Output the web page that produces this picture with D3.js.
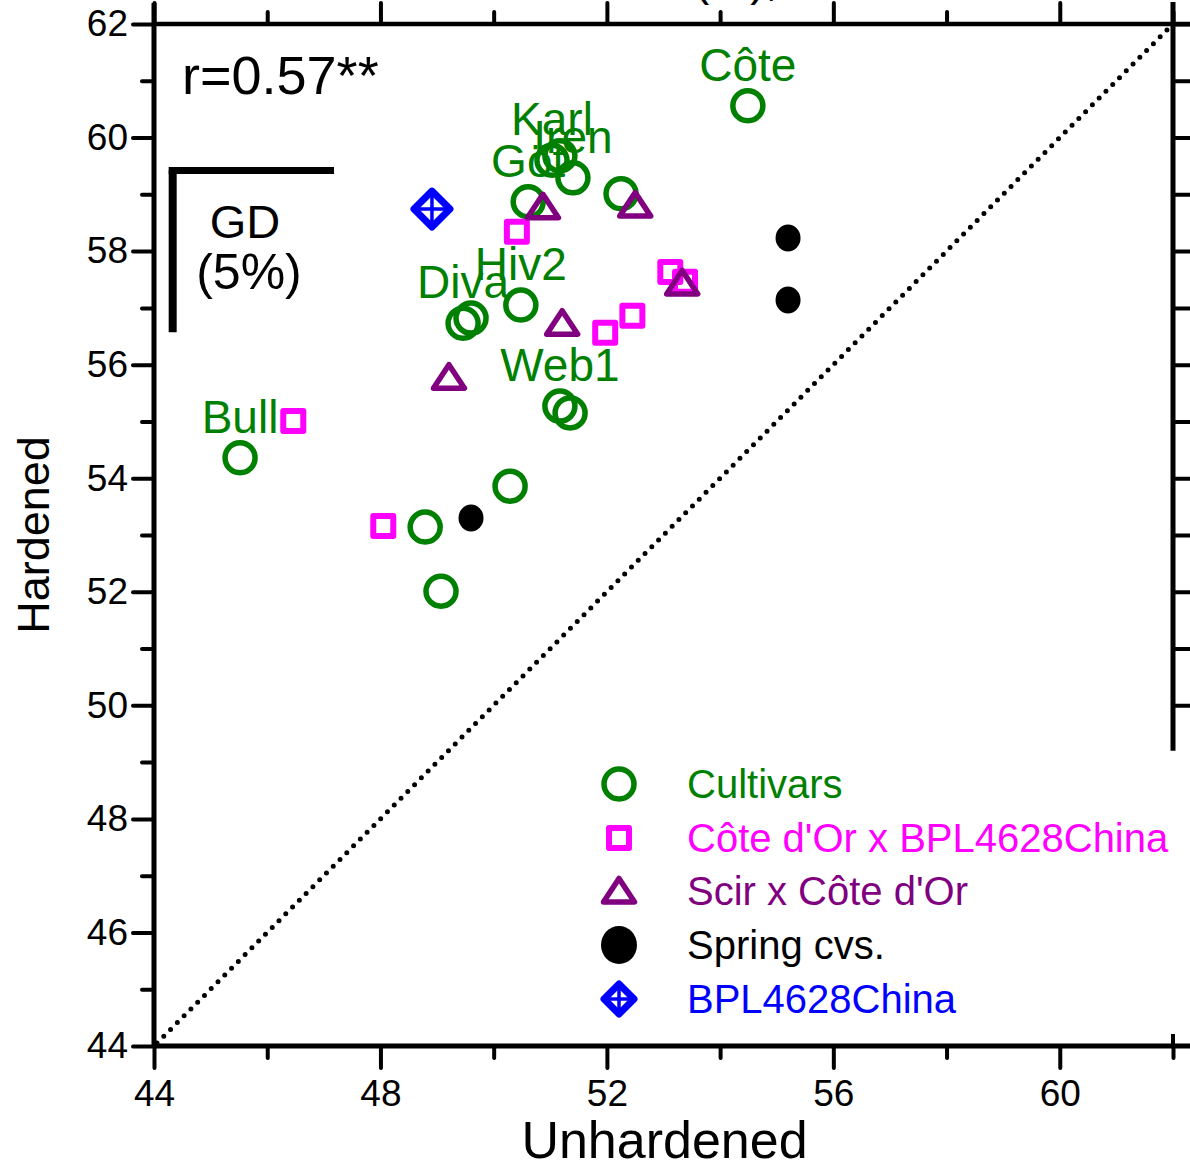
<!DOCTYPE html>
<html><head><meta charset="utf-8">
<script src="https://cdn.jsdelivr.net/npm/d3@7"></script>
<style>body{margin:0;background:#fff}svg{display:block;font-family:"Liberation Sans",Arial,sans-serif}</style>
</head><body><svg id="c" width="1190" height="1170"></svg>
<script>
// ---- data ----
const cultX = [54.49, 51.03, 51.17, 51.40, 50.61, 52.25, 50.48, 49.46, 49.60, 51.17, 51.35, 45.52, 50.29, 48.79, 49.07];
const cultY = [60.56, 59.60, 59.68, 59.29, 58.87, 59.01, 57.05, 56.73, 56.82, 55.27, 55.15, 54.36, 53.86, 53.14, 52.01];
const cultLabels = ["Côte", "Karl", "", "Iren", "Göt", "", "Hiv2", "Diva", "", "Web1", "", "Bull", "", "", ""];
const sqX = [46.46, 48.05, 50.41, 51.97, 52.45, 53.12, 53.38];
const sqY = [55.01, 53.16, 58.34, 56.56, 56.86, 57.63, 57.46];
const triX = [50.87, 52.50, 49.21, 51.21, 53.33];
const triY = [58.78, 58.81, 55.78, 56.73, 57.44];
const springX = [55.20, 55.20, 49.60];
const springY = [58.23, 57.14, 53.30];
const chinaX = [48.91];
const chinaY = [58.74];
const legendNames = ["Cultivars", "Côte d'Or x BPL4628China", "Scir x Côte d'Or", "Spring cvs.", "BPL4628China"];
const legendColors = ["#008000", "#ff00ff", "#800080", "#000000", "#0000ff"];
const legendShapes = ["circle", "square", "triangle", "dot", "diamond"];
const xMajor = [44, 48, 52, 56, 60];
const xMinor = [46, 50, 54, 58, 62];
const yMajor = [44, 46, 48, 50, 52, 54, 56, 58, 60, 62];
const yMinor = [45, 47, 49, 51, 53, 55, 57, 59, 61];
const rightTicks = [50, 51, 52, 53, 54, 55, 56, 57, 58, 59, 60, 61, 62];
const rightEnd = 49.2;
const gdStartX = 44.33, gdStartY = 59.42, gdValue = 2.85;
const rText = "r=0.57**";

// ---- chart ----
const svg = d3.select("#c");
const x = d3.scaleLinear([44, 62], [154, 1173]);
const y = d3.scaleLinear([44, 62], [1046, 24]);

function styleAxis(g, w) {
  g.selectAll(".domain").attr("stroke", "#000").attr("stroke-width", w);
  g.selectAll(".tick line").attr("stroke", "#000").attr("stroke-width", 4).attr("stroke-linecap", "round");
}
// top
const topMaj = svg.append("g").attr("transform", `translate(0,${y(62)})`)
  .call(d3.axisTop(x).tickValues(xMajor).tickSize(21).tickSizeOuter(0).tickFormat(""));
styleAxis(topMaj, 4.5); topMaj.select(".domain").remove();
const topMin = svg.append("g").attr("transform", `translate(0,${y(62)})`)
  .call(d3.axisTop(x).tickValues(xMinor).tickSize(12).tickSizeOuter(0).tickFormat(""));
styleAxis(topMin, 4.5); topMin.select(".domain").remove();
svg.append("line").attr("x1", x(44)).attr("x2", 1190).attr("y1", y(62)).attr("y2", y(62)).attr("stroke", "#000").attr("stroke-width", 4.5);
// bottom
const botMaj = svg.append("g").attr("transform", `translate(0,${y(44)})`)
  .call(d3.axisBottom(x).tickValues(xMajor).tickSize(22).tickSizeOuter(0).tickPadding(12).tickFormat(d3.format("d")));
styleAxis(botMaj, 5); botMaj.select(".domain").remove();
botMaj.selectAll(".tick text").attr("font-size", 37).attr("fill", "#000").attr("font-family", "Liberation Sans, Arial, sans-serif");
const botMin = svg.append("g").attr("transform", `translate(0,${y(44)})`)
  .call(d3.axisBottom(x).tickValues(xMinor).tickSize(12).tickSizeOuter(0).tickFormat(""));
styleAxis(botMin, 5); botMin.select(".domain").remove();
svg.append("line").attr("x1", x(62)).attr("x2", x(62)).attr("y1", y(44) - 12).attr("y2", y(44)).attr("stroke", "#000").attr("stroke-width", 4);
svg.append("line").attr("x1", x(44)).attr("x2", 1190).attr("y1", y(44)).attr("y2", y(44)).attr("stroke", "#000").attr("stroke-width", 5);
// left
const leftMaj = svg.append("g").attr("transform", `translate(${x(44)},0)`)
  .call(d3.axisLeft(y).tickValues(yMajor).tickSize(21).tickSizeOuter(0).tickPadding(5).tickFormat(d3.format("d")));
styleAxis(leftMaj, 5); leftMaj.select(".domain").remove();
leftMaj.selectAll(".tick text").attr("font-size", 37).attr("fill", "#000").attr("font-family", "Liberation Sans, Arial, sans-serif");
const leftMin = svg.append("g").attr("transform", `translate(${x(44)},0)`)
  .call(d3.axisLeft(y).tickValues(yMinor).tickSize(12).tickSizeOuter(0).tickFormat(""));
styleAxis(leftMin, 5); leftMin.select(".domain").remove();
svg.append("line").attr("x1", x(44)).attr("x2", x(44)).attr("y1", 3).attr("y2", y(44)).attr("stroke", "#000").attr("stroke-width", 5);
// right
const right = svg.append("g").attr("transform", `translate(${x(62)},0)`)
  .call(d3.axisRight(y).tickValues(rightTicks).tickSize(17).tickSizeOuter(0).tickFormat(""));
styleAxis(right, 5); right.select(".domain").remove();
svg.append("line").attr("x1", x(62)).attr("x2", x(62)).attr("y1", 2).attr("y2", y(rightEnd)).attr("stroke", "#000").attr("stroke-width", 5);

// 1:1 dotted line
svg.append("line").attr("x1", x(44) + 3).attr("y1", y(44) - 3).attr("x2", x(62) - 3).attr("y2", y(62) + 3)
  .attr("stroke", "#000").attr("stroke-width", 5).attr("stroke-linecap", "round").attr("stroke-dasharray", "0 9.6");

// axis titles
svg.append("text").attr("x", (x(44) + x(62)) / 2 + 1).attr("y", 1158).attr("text-anchor", "middle")
  .attr("font-size", 52).text("Unhardened");
svg.append("text").attr("transform", `translate(49,535) rotate(-90)`).attr("text-anchor", "middle")
  .attr("font-size", 45).text("Hardened");
svg.append("text").attr("x", 694).attr("y", -5).attr("font-size", 46).text("(%),");

// r text
svg.append("text").attr("x", 182).attr("y", 94).attr("font-size", 54).text(rText);

// GD bar
svg.append("line").attr("x1", x(gdStartX) - 4).attr("x2", x(gdStartX + gdValue)).attr("y1", y(gdStartY)).attr("y2", y(gdStartY))
  .attr("stroke", "#000").attr("stroke-width", 7);
svg.append("line").attr("x1", x(gdStartX)).attr("x2", x(gdStartX)).attr("y1", y(gdStartY)).attr("y2", y(gdStartY - gdValue))
  .attr("stroke", "#000").attr("stroke-width", 8);
svg.append("text").attr("x", 245).attr("y", 238).attr("text-anchor", "middle").attr("font-size", 47).text("GD");
svg.append("text").attr("x", 249).attr("y", 289).attr("text-anchor", "middle").attr("font-size", 50).text("(5%)");

// marker drawing
function marker(g, shape, color, legend) {
  if (shape === "circle") {
    g.append("circle").attr("r", 15).attr("fill", "none").attr("stroke", color).attr("stroke-width", 5.5);
  } else if (shape === "square") {
    g.append("rect").attr("x", -10).attr("y", -10).attr("width", 20).attr("height", 20)
      .attr("fill", "none").attr("stroke", color).attr("stroke-width", 6).attr("stroke-linejoin", "round");
  } else if (shape === "triangle") {
    g.append("path").attr("d", "M0,-12.5L15.5,11L-15.5,11Z").attr("fill", "none").attr("stroke", color)
      .attr("stroke-width", 5.5).attr("stroke-linejoin", "round");
  } else if (shape === "dot") {
    const r = legend ? 18 : 12.5;
    g.append("ellipse").attr("rx", r).attr("ry", r + 1).attr("fill", color);
  } else if (shape === "diamond") {
    const h = legend ? 15 : 18;
    g.append("path").attr("d", `M0,${-h}L${h},0L0,${h}L${-h},0Z`).attr("fill", "none").attr("stroke", color)
      .attr("stroke-width", 7).attr("stroke-linejoin", "round");
    g.append("path").attr("d", `M0,${-h}V${h}M${-h},0H${h}`).attr("stroke", color).attr("stroke-width", 3.5);
  }
}
function series(xs, ys, shape, color) {
  xs.forEach((v, i) => {
    const g = svg.append("g").attr("transform", `translate(${x(v)},${y(ys[i])})`);
    marker(g, shape, color, false);
  });
}
series(springX, springY, "dot", "#000");
series(cultX, cultY, "circle", "#008000");
series(sqX, sqY, "square", "#ff00ff");
series(triX, triY, "triangle", "#800080");
series(chinaX, chinaY, "diamond", "#0000ff");

// cultivar labels
cultLabels.forEach((t, i) => {
  if (!t) return;
  svg.append("text").attr("x", x(cultX[i])).attr("y", y(cultY[i]) - 25).attr("text-anchor", "middle")
    .attr("font-size", 46).attr("fill", "#008000").text(t);
});

// legend
const legRows = [784, 838, 891, 945, 999];
legendNames.forEach((n, i) => {
  const g = svg.append("g").attr("transform", `translate(619,${legRows[i]})`);
  marker(g, legendShapes[i], legendColors[i], true);
  svg.append("text").attr("x", 687).attr("y", legRows[i] + 14).attr("font-size", 40)
    .attr("fill", legendColors[i]).text(n);
});
</script></body></html>
